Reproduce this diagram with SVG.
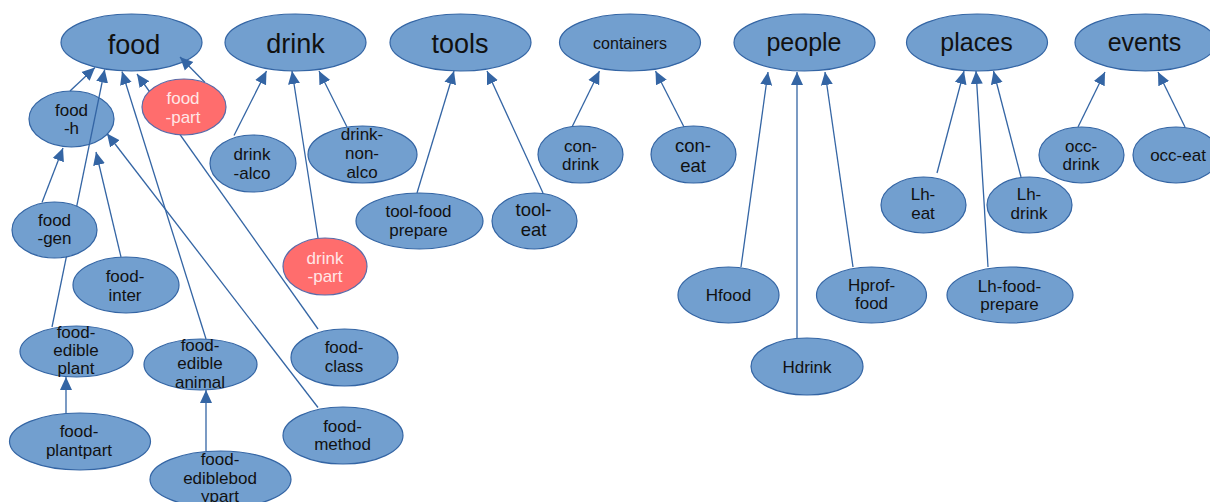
<svg xmlns="http://www.w3.org/2000/svg" width="1210" height="502" viewBox="0 0 1210 502">
<style>
.n ellipse{fill:#729fcf;stroke:#3465a4;stroke-width:1.2}
.r ellipse{fill:#ff6d6d;stroke:#5a6aa8;stroke-width:1.2}
text{font-family:"Liberation Sans",Arial,sans-serif;font-size:17px;fill:#111;text-anchor:middle}
.big text{font-size:27px}
.mid text{font-size:25px}
.sm text{font-size:16px}
.lg text{font-size:18.5px}
.r text{fill:#ffe6e6}
.edges line{stroke:#3465a4;stroke-width:1.3;marker-end:url(#ah)}
</style>
<defs>
<marker id="ah" markerUnits="userSpaceOnUse" markerWidth="14" markerHeight="14" viewBox="0 0 14 14" refX="13" refY="7" orient="auto">
<path d="M0,1 L13,7 L0,13 z" fill="#3465a4"/>
</marker>
</defs>
<rect width="1210" height="502" fill="#fff"/>
<g id="food" class="n big"><ellipse cx="131.5" cy="42.5" rx="70.5" ry="28.5"/><text x="134" y="53.5">food</text></g>
<g id="drink" class="n big"><ellipse cx="295.5" cy="42.5" rx="70.5" ry="28.5"/><text x="295.5" y="52.5">drink</text></g>
<g id="tools" class="n big"><ellipse cx="460.5" cy="42.5" rx="70.5" ry="28.5"/><text x="460" y="52.5">tools</text></g>
<g id="containers" class="n sm"><ellipse cx="630" cy="42.5" rx="70.5" ry="28.5"/><text x="630" y="48.5">containers</text></g>
<g id="people" class="n mid"><ellipse cx="804.5" cy="42.5" rx="70.5" ry="28.5"/><text x="804" y="50.5">people</text></g>
<g id="places" class="n mid"><ellipse cx="977" cy="42.5" rx="70.5" ry="28.5"/><text x="976.5" y="50.5">places</text></g>
<g id="events" class="n mid"><ellipse cx="1145.5" cy="42.5" rx="70.5" ry="28.5"/><text x="1144.5" y="50.5">events</text></g>
<g id="food-h" class="n"><ellipse cx="71.5" cy="119" rx="42.5" ry="28"/><text x="71.5" y="115.5">food</text><text x="71.5" y="134">-h</text></g>
<g id="connectors" class="edges">
<line x1="70" y1="91" x2="95" y2="67.5"/>
<line x1="52" y1="327" x2="104.7" y2="69.5"/>
<line x1="206" y1="339" x2="122" y2="71.5"/>
<line x1="318" y1="329" x2="137" y2="74"/>
<line x1="205" y1="82.5" x2="180" y2="57"/>
<line x1="42" y1="202.5" x2="63" y2="148"/>
<line x1="121" y1="257" x2="96" y2="152"/>
<line x1="318" y1="407.5" x2="107" y2="133.5"/>
<line x1="66" y1="413" x2="66" y2="377"/>
<line x1="206" y1="451" x2="206" y2="390"/>
<line x1="234" y1="135.5" x2="266.5" y2="71"/>
<line x1="318" y1="238" x2="292" y2="71"/>
<line x1="347" y1="127" x2="319" y2="71"/>
<line x1="417" y1="193" x2="454" y2="71"/>
<line x1="543" y1="193" x2="487" y2="71"/>
<line x1="572" y1="127" x2="599.5" y2="71"/>
<line x1="684" y1="127" x2="655.5" y2="71"/>
<line x1="741" y1="267" x2="768" y2="72"/>
<line x1="797" y1="338" x2="797" y2="72"/>
<line x1="853" y1="267" x2="825" y2="72"/>
<line x1="937" y1="173" x2="964" y2="71"/>
<line x1="988" y1="267" x2="976" y2="71"/>
<line x1="1021" y1="177" x2="993.5" y2="71"/>
<line x1="1078" y1="127" x2="1105" y2="72"/>
<line x1="1185" y1="127" x2="1158" y2="72"/>
</g>
<g id="food-part" class="r"><ellipse cx="184" cy="107" rx="42" ry="28"/><text x="183" y="104">food</text><text x="183" y="122.5">-part</text></g>
<g id="drink-alco" class="n"><ellipse cx="253" cy="163.5" rx="43" ry="28.5"/><text x="252" y="160">drink</text><text x="252" y="178.5">-alco</text></g>
<g id="drink-non-alco" class="n"><ellipse cx="362.5" cy="154.5" rx="54.5" ry="28.5"/><text x="362" y="140">drink-</text><text x="362" y="159">non-</text><text x="362" y="178">alco</text></g>
<g id="tool-food-prepare" class="n"><ellipse cx="419.5" cy="221" rx="63.5" ry="28"/><text x="418.5" y="217">tool-food</text><text x="418.5" y="235.5">prepare</text></g>
<g id="tool-eat" class="n lg"><ellipse cx="534.5" cy="221" rx="42.5" ry="28"/><text x="533.5" y="216">tool-</text><text x="533.5" y="236">eat</text></g>
<g id="drink-part" class="r"><ellipse cx="325" cy="266.5" rx="42" ry="28.5"/><text x="325" y="263.5">drink</text><text x="325" y="282">-part</text></g>
<g id="con-drink" class="n"><ellipse cx="580.5" cy="154.5" rx="42.5" ry="28.5"/><text x="580.5" y="152">con-</text><text x="580.5" y="169.5">drink</text></g>
<g id="con-eat" class="n lg"><ellipse cx="693.5" cy="154.5" rx="42.5" ry="28.5"/><text x="693" y="152">con-</text><text x="693" y="171.5">eat</text></g>
<g id="Hfood" class="n"><ellipse cx="728.5" cy="295" rx="50.5" ry="28"/><text x="728.5" y="301">Hfood</text></g>
<g id="Hdrink" class="n"><ellipse cx="807" cy="366.5" rx="56" ry="28.5"/><text x="807" y="372.5">Hdrink</text></g>
<g id="Hprof-food" class="n"><ellipse cx="871.5" cy="295" rx="55" ry="28"/><text x="871.5" y="290.5">Hprof-</text><text x="871.5" y="309">food</text></g>
<g id="Lh-eat" class="n"><ellipse cx="923.5" cy="205" rx="42.5" ry="28"/><text x="923" y="200">Lh-</text><text x="923" y="219">eat</text></g>
<g id="Lh-drink" class="n"><ellipse cx="1029.5" cy="205" rx="42.5" ry="28"/><text x="1029" y="200">Lh-</text><text x="1029" y="219">drink</text></g>
<g id="Lh-food-prepare" class="n"><ellipse cx="1010" cy="295" rx="63" ry="28"/><text x="1009.5" y="291.5">Lh-food-</text><text x="1009.5" y="310">prepare</text></g>
<g id="occ-drink" class="n"><ellipse cx="1081.5" cy="155" rx="42.5" ry="28"/><text x="1081" y="151.5">occ-</text><text x="1081" y="169.5">drink</text></g>
<g id="occ-eat" class="n"><ellipse cx="1176" cy="155" rx="43" ry="28"/><text x="1178" y="161">occ-eat</text></g>
<g id="food-gen" class="n"><ellipse cx="54.5" cy="230" rx="42.5" ry="28"/><text x="54.5" y="225.5">food</text><text x="54.5" y="244">-gen</text></g>
<g id="food-inter" class="n"><ellipse cx="126" cy="285" rx="53" ry="28"/><text x="125" y="282">food-</text><text x="125" y="300.5">inter</text></g>
<g id="food-edible-plant" class="n"><ellipse cx="76.5" cy="351.5" rx="56.5" ry="25.5"/><text x="76" y="338">food-</text><text x="76" y="356">edible</text><text x="76" y="374">plant</text></g>
<g id="food-plantpart" class="n"><ellipse cx="80" cy="441.5" rx="70.5" ry="28.5"/><text x="79" y="437">food-</text><text x="79" y="455.5">plantpart</text></g>
<g id="food-edible-animal" class="n"><ellipse cx="200.5" cy="364.5" rx="56.5" ry="25.5"/><text x="200" y="350.5">food-</text><text x="200" y="369">edible</text><text x="200" y="388">animal</text></g>
<g id="food-ediblebodypart" class="n"><ellipse cx="220.5" cy="479.5" rx="70.5" ry="28.5"/><text x="220" y="465">food-</text><text x="220" y="483.5">ediblebod</text><text x="220" y="502">ypart</text></g>
<g id="food-class" class="n"><ellipse cx="344.5" cy="357.5" rx="53.5" ry="28.5"/><text x="344" y="353">food-</text><text x="344" y="371.5">class</text></g>
<g id="food-method" class="n"><ellipse cx="343" cy="435.5" rx="60" ry="28.5"/><text x="342.5" y="431.5">food-</text><text x="342.5" y="450">method</text></g>
</svg>
